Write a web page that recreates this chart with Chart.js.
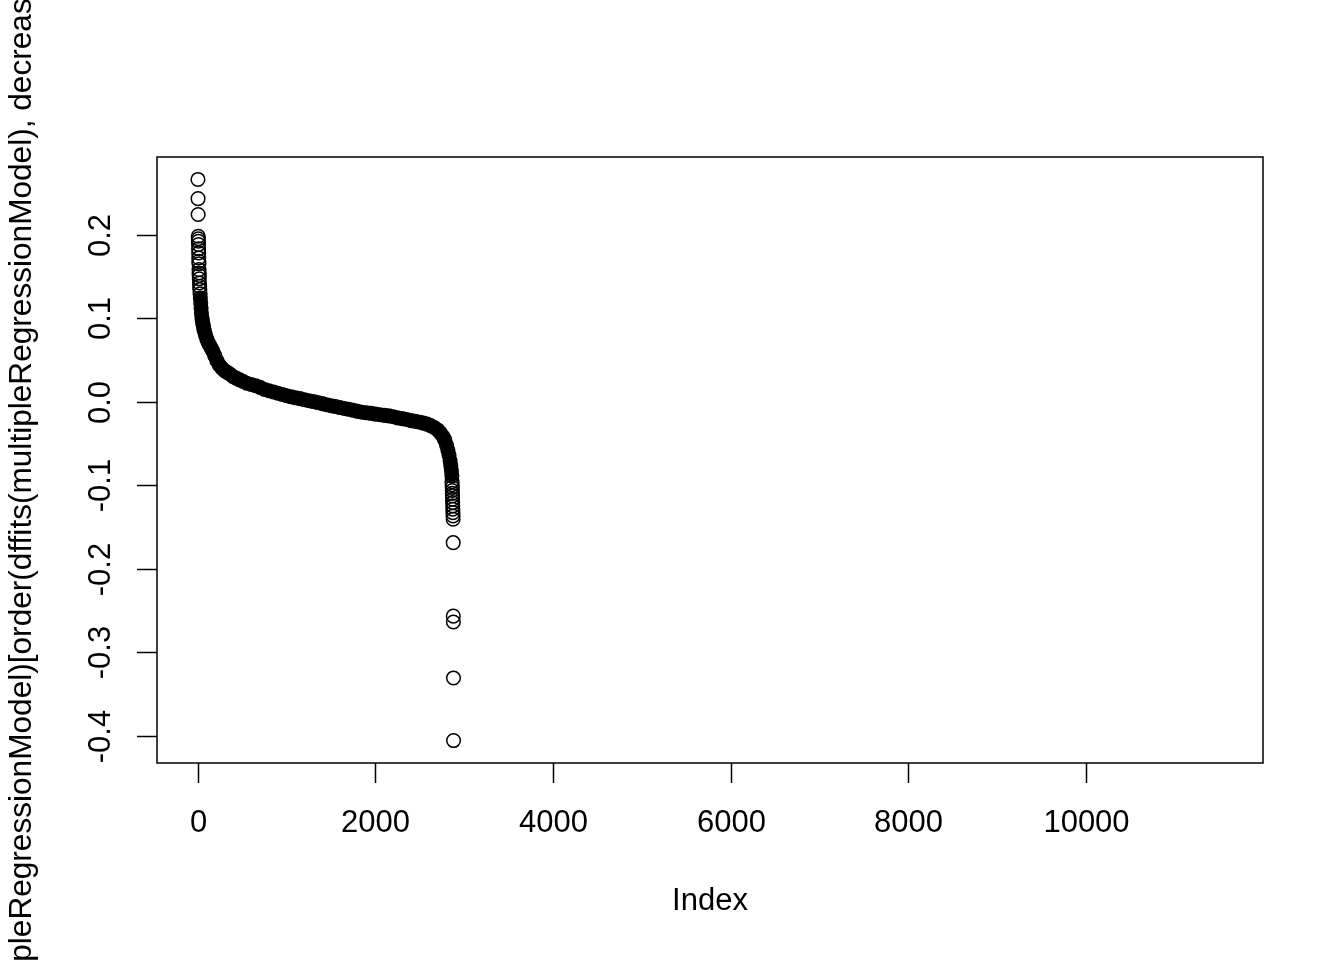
<!DOCTYPE html>
<html>
<head>
<meta charset="utf-8">
<title>dffits index plot</title>
<script src="https://cdn.jsdelivr.net/npm/chart.js@4"></script>
<style>
  html, body { margin: 0; padding: 0; background: #fff; }
  #wrap { width: 1344px; height: 960px; position: relative; }
</style>
</head>
<body>
<div id="wrap"><canvas id="plot"></canvas></div>
<script>
// sorted dffits values (index -> value)
const obsIndex = [
  1, 2, 3, 4, 5, 6, 7, 8, 9, 10, 11, 12, 13, 14, 15, 16, 18, 20, 22, 25,
  28, 32, 36, 40, 45, 50, 55, 60, 67, 75, 85, 100, 115, 130, 150, 170, 190, 214, 240, 270,
  300, 330, 360, 394, 430, 470, 510, 550, 600, 650, 700, 750, 800, 850, 900, 950, 1000, 1050, 1100, 1150,
  1200, 1250, 1300, 1350, 1400, 1450, 1500, 1550, 1600, 1650, 1700, 1750, 1800, 1850, 1900, 1950, 2000, 2050, 2100, 2150,
  2200, 2250, 2300, 2350, 2400, 2450, 2500, 2540, 2580, 2620, 2660, 2700, 2730, 2760, 2780, 2800, 2815, 2828, 2840, 2848,
  2855, 2860, 2862, 2863, 2864, 2865, 2866, 2867, 2868, 2869, 2870, 2871, 2872, 2873, 2874, 2875, 2876, 2877, 2878, 2879
];
const dffitsSorted = [
  0.266, 0.243, 0.224, 0.198, 0.195, 0.192, 0.188, 0.183, 0.178, 0.172, 0.168, 0.165, 0.158, 0.154, 0.151, 0.147, 0.142, 0.138, 0.134, 0.129,
  0.124, 0.118, 0.112, 0.106, 0.101, 0.097, 0.094, 0.091, 0.087, 0.084, 0.080, 0.075, 0.071, 0.068, 0.064, 0.060, 0.055, 0.049, 0.044, 0.040,
  0.037, 0.035, 0.033, 0.030, 0.028, 0.026, 0.024, 0.022, 0.0205, 0.019, 0.017, 0.0145, 0.013, 0.0115, 0.010, 0.0085, 0.0070, 0.0057, 0.0045, 0.0035,
  0.0022, 0.0010, 0.000, -0.0012, -0.0025, -0.0038, -0.0050, -0.0060, -0.0072, -0.0083, -0.0093, -0.0105, -0.0118, -0.0128, -0.0135, -0.0142, -0.0150, -0.0158, -0.0165, -0.0172,
  -0.0182, -0.0195, -0.0205, -0.0215, -0.0228, -0.0238, -0.0248, -0.0258, -0.0270, -0.0288, -0.0310, -0.0340, -0.0375, -0.0420, -0.0460, -0.0520, -0.0580, -0.0640, -0.0710, -0.0770,
  -0.0830, -0.0890, -0.0960, -0.0995, -0.1030, -0.1065, -0.1100, -0.1130, -0.1170, -0.1210, -0.1250, -0.1290, -0.1330, -0.1370, -0.1410, -0.1690, -0.2570, -0.2640, -0.3310, -0.4060
];

// axis ticks
const xTicks = [0, 2000, 4000, 6000, 8000, 10000];
const yTicks = [-0.4, -0.3, -0.2, -0.1, 0.0, 0.1, 0.2];
const yTickLabels = ['-0.4', '-0.3', '-0.2', '-0.1', '0.0', '0.1', '0.2'];
const xTitle = 'Index';
const yTitle = 'dffits(multipleRegressionModel)[order(dffits(multipleRegressionModel), decreasing = TRUE)]';

// R pads the data range by 4% on each side
const xRange = [1, 11532];
const yRange = [Math.min(...dffitsSorted), Math.max(...dffitsSorted)];
const pad = (r) => { const d = (r[1] - r[0]) * 0.04; return [r[0] - d, r[1] + d]; };
const [xMin, xMax] = pad(xRange);
const [yMin, yMax] = pad(yRange);

const points = obsIndex.map((x, i) => ({ x, y: dffitsSorted[i] }));
// where the circles overlap into a solid band
const bandFrom = obsIndex.indexOf(28);
const bandTo = obsIndex.indexOf(2860);
const bandPoints = points.slice(bandFrom, bandTo + 1);

const FONT = '"Liberation Sans", Arial, Helvetica, sans-serif';

// draws the R style box, ticks and labels from the chart's scales
const baseAxes = {
  id: 'baseAxes',
  afterDraw(chart) {
    const { ctx, chartArea: a, scales: { x, y } } = chart;
    ctx.save();
    ctx.strokeStyle = '#000';
    ctx.fillStyle = '#000';
    ctx.lineWidth = 1.5;
    ctx.strokeRect(a.left, a.top, a.right - a.left, a.bottom - a.top);

    ctx.font = '31px ' + FONT;
    ctx.textAlign = 'center';
    ctx.textBaseline = 'alphabetic';

    // x axis
    xTicks.forEach(v => {
      const px = Math.round(x.getPixelForValue(v)) + 0.5;
      ctx.beginPath();
      ctx.moveTo(px, a.bottom);
      ctx.lineTo(px, a.bottom + 20);
      ctx.stroke();
      ctx.fillText(String(v), px, a.bottom + 69);
    });
    ctx.fillText(xTitle, (a.left + a.right) / 2, a.bottom + 147);

    // y axis
    yTicks.forEach((v, i) => {
      const py = Math.round(y.getPixelForValue(v)) + 0.5;
      ctx.beginPath();
      ctx.moveTo(a.left, py);
      ctx.lineTo(a.left - 20, py);
      ctx.stroke();
      ctx.save();
      ctx.translate(a.left - 47, py);
      ctx.rotate(-Math.PI / 2);
      ctx.fillText(yTickLabels[i], 0, 0);
      ctx.restore();
    });
    ctx.font = '31.6px ' + FONT;
    ctx.save();
    ctx.translate(31, (a.top + a.bottom) / 2);
    ctx.rotate(-Math.PI / 2);
    ctx.fillText(yTitle, 0, 0);
    ctx.restore();
    ctx.restore();
  }
};

new Chart(document.getElementById('plot'), {
  type: 'scatter',
  data: {
    datasets: [
      {
        data: bandPoints,
        showLine: true,
        borderColor: '#000',
        borderWidth: 12,
        borderJoinStyle: 'round',
        borderCapStyle: 'round',
        tension: 0,
        pointRadius: 0,
        order: 2
      },
      {
        data: points,
        showLine: false,
        pointStyle: 'circle',
        pointRadius: 6.8,
        pointBorderWidth: 1.5,
        pointBorderColor: '#000',
        pointBackgroundColor: 'rgba(0,0,0,0)',
        order: 1
      }
    ]
  },
  options: {
    responsive: true,
    maintainAspectRatio: false,
    animation: false,
    events: [],
    layout: { padding: { left: 157, top: 157, right: 81, bottom: 197 } },
    plugins: { legend: { display: false }, tooltip: { enabled: false } },
    scales: {
      x: { type: 'linear', min: xMin, max: xMax, display: false },
      y: { type: 'linear', min: yMin, max: yMax, display: false }
    }
  },
  plugins: [baseAxes]
});
</script>
</body>
</html>
